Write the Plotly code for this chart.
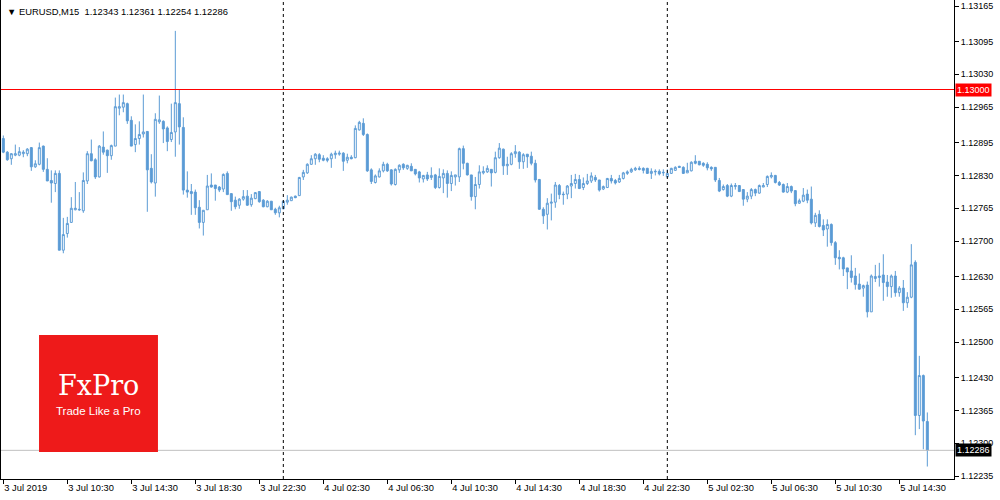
import pandas as pd
import plotly.graph_objects as go

symbol = "EURUSD,M15"
start_time = "2019-07-03 06:30"

open_ = [1.12903,1.12876,1.12863,1.12870,1.12870,1.12873,1.12873,1.12885,1.12847,1.12852,
1.12888,1.12842,1.12820,1.12814,1.12834,1.12682,1.12715,1.12737,1.12762,1.12763,
1.12760,1.12819,1.12873,1.12861,1.12827,1.12886,1.12880,1.12869,1.12888,1.12963,
1.12965,1.12972,1.12939,1.12891,1.12903,1.12912,1.12917,1.12844,1.12815,1.12936,
1.12937,1.12924,1.12901,1.12916,1.12972,1.12925,1.12801,1.12798,1.12797,1.12767,
1.12737,1.12762,1.12811,1.12811,1.12807,1.12803,1.12834,1.12794,1.12781,1.12771,
1.12783,1.12789,1.12772,1.12784,1.12798,1.12781,1.12768,1.12779,1.12763,1.12756,
1.12764,1.12777,1.12780,1.12789,1.12790,1.12827,1.12835,1.12852,1.12863,1.12871,
1.12864,1.12863,1.12863,1.12871,1.12872,1.12874,1.12860,1.12866,1.12865,1.12920,
1.12933,1.12911,1.12841,1.12816,1.12827,1.12839,1.12852,1.12841,1.12812,1.12841,
1.12852,1.12844,1.12848,1.12842,1.12837,1.12823,1.12831,1.12826,1.12831,1.12806,
1.12825,1.12834,1.12814,1.12827,1.12827,1.12883,1.12854,1.12831,1.12788,1.12812,
1.12835,1.12837,1.12842,1.12836,1.12865,1.12882,1.12849,1.12852,1.12873,1.12876,
1.12857,1.12872,1.12868,1.12854,1.12822,1.12763,1.12753,1.12775,1.12777,1.12810,
1.12793,1.12793,1.12809,1.12814,1.12822,1.12806,1.12814,1.12819,1.12826,1.12821,
1.12803,1.12806,1.12824,1.12820,1.12817,1.12824,1.12834,1.12837,1.12841,1.12844,
1.12844,1.12844,1.12834,1.12837,1.12838,1.12835,1.12827,1.12834,1.12840,1.12848,
1.12846,1.12835,1.12839,1.12858,1.12858,1.12854,1.12852,1.12846,1.12846,1.12820,
1.12802,1.12810,1.12789,1.12808,1.12810,1.12802,1.12783,1.12789,1.12802,1.12795,
1.12807,1.12812,1.12827,1.12830,1.12816,1.12812,1.12797,1.12808,1.12800,1.12775,
1.12779,1.12793,1.12783,1.12736,1.12753,1.12731,1.12724,1.12733,1.12697,1.12668,
1.12667,1.12647,1.12641,1.12631,1.12615,1.12607,1.12613,1.12560,1.12626,1.12628,
1.12633,1.12619,1.12610,1.12631,1.12598,1.12607,1.12578,1.12589,1.12658,1.12355,
1.12434,1.12343]

high = [1.12909,1.12878,1.12874,1.12891,1.12886,1.12880,1.12884,1.12886,1.12860,1.12895,
1.12889,1.12864,1.12840,1.12840,1.12840,1.12746,1.12748,1.12787,1.12817,1.12797,
1.12836,1.12878,1.12901,1.12864,1.12890,1.12917,1.12881,1.12891,1.12984,1.12990,
1.12990,1.12974,1.12947,1.12931,1.12937,1.12990,1.12917,1.12872,1.12953,1.12988,
1.12939,1.12927,1.12972,1.13116,1.13001,1.12945,1.12838,1.12813,1.12802,1.12781,
1.12761,1.12831,1.12834,1.12811,1.12809,1.12834,1.12838,1.12794,1.12788,1.12785,
1.12801,1.12801,1.12793,1.12797,1.12799,1.12783,1.12781,1.12779,1.12766,1.12770,
1.12780,1.12791,1.12788,1.12790,1.12827,1.12841,1.12854,1.12870,1.12874,1.12874,
1.12870,1.12866,1.12875,1.12879,1.12879,1.12876,1.12873,1.12870,1.12929,1.12938,
1.12943,1.12913,1.12844,1.12832,1.12844,1.12857,1.12855,1.12842,1.12844,1.12852,
1.12854,1.12851,1.12854,1.12842,1.12839,1.12831,1.12837,1.12846,1.12833,1.12844,
1.12842,1.12840,1.12838,1.12831,1.12885,1.12889,1.12855,1.12831,1.12827,1.12850,
1.12848,1.12850,1.12842,1.12877,1.12894,1.12883,1.12867,1.12876,1.12890,1.12878,
1.12874,1.12872,1.12877,1.12861,1.12823,1.12767,1.12785,1.12794,1.12817,1.12813,
1.12798,1.12811,1.12831,1.12833,1.12831,1.12826,1.12833,1.12836,1.12831,1.12821,
1.12810,1.12825,1.12831,1.12823,1.12831,1.12837,1.12840,1.12845,1.12847,1.12848,
1.12846,1.12845,1.12844,1.12842,1.12842,1.12842,1.12842,1.12845,1.12848,1.12849,
1.12848,1.12855,1.12858,1.12870,1.12858,1.12856,1.12856,1.12848,1.12846,1.12825,
1.12812,1.12813,1.12814,1.12815,1.12810,1.12803,1.12797,1.12805,1.12804,1.12812,
1.12815,1.12830,1.12836,1.12831,1.12819,1.12814,1.12815,1.12810,1.12800,1.12784,
1.12805,1.12802,1.12808,1.12756,1.12761,1.12743,1.12743,1.12735,1.12700,1.12682,
1.12669,1.12647,1.12672,1.12647,1.12636,1.12614,1.12620,1.12634,1.12653,1.12657,
1.12674,1.12633,1.12634,1.12641,1.12611,1.12623,1.12599,1.12694,1.12662,1.12473,
1.12436,1.12361]

low = [1.12874,1.12859,1.12851,1.12868,1.12868,1.12866,1.12868,1.12839,1.12845,1.12850,
1.12837,1.12819,1.12776,1.12797,1.12682,1.12676,1.12707,1.12736,1.12761,1.12760,
1.12756,1.12813,1.12858,1.12823,1.12826,1.12871,1.12835,1.12861,1.12888,1.12949,
1.12955,1.12932,1.12888,1.12876,1.12891,1.12905,1.12758,1.12814,1.12788,1.12932,
1.12894,1.12878,1.12896,1.12867,1.12891,1.12792,1.12786,1.12752,1.12752,1.12725,
1.12711,1.12762,1.12806,1.12780,1.12797,1.12797,1.12792,1.12760,1.12763,1.12764,
1.12780,1.12770,1.12768,1.12783,1.12776,1.12767,1.12767,1.12762,1.12752,1.12747,
1.12763,1.12772,1.12780,1.12785,1.12790,1.12821,1.12833,1.12851,1.12851,1.12856,
1.12858,1.12856,1.12845,1.12863,1.12869,1.12839,1.12854,1.12862,1.12864,1.12919,
1.12908,1.12837,1.12813,1.12814,1.12826,1.12836,1.12837,1.12810,1.12810,1.12835,
1.12841,1.12841,1.12839,1.12830,1.12816,1.12816,1.12819,1.12821,1.12803,1.12804,
1.12795,1.12786,1.12799,1.12810,1.12817,1.12842,1.12830,1.12780,1.12763,1.12804,
1.12832,1.12835,1.12808,1.12834,1.12863,1.12831,1.12831,1.12850,1.12865,1.12843,
1.12843,1.12845,1.12850,1.12816,1.12762,1.12734,1.12723,1.12741,1.12766,1.12783,
1.12772,1.12783,1.12785,1.12804,1.12803,1.12801,1.12811,1.12815,1.12817,1.12798,
1.12801,1.12806,1.12814,1.12812,1.12815,1.12822,1.12831,1.12835,1.12839,1.12840,
1.12834,1.12833,1.12823,1.12830,1.12830,1.12829,1.12826,1.12833,1.12839,1.12845,
1.12833,1.12835,1.12838,1.12852,1.12850,1.12847,1.12840,1.12839,1.12817,1.12797,
1.12800,1.12787,1.12787,1.12802,1.12798,1.12770,1.12777,1.12783,1.12789,1.12794,
1.12807,1.12807,1.12824,1.12814,1.12809,1.12796,1.12795,1.12795,1.12769,1.12774,
1.12777,1.12775,1.12733,1.12728,1.12727,1.12710,1.12689,1.12691,1.12653,1.12644,
1.12631,1.12605,1.12618,1.12604,1.12604,1.12590,1.12549,1.12560,1.12619,1.12610,
1.12582,1.12590,1.12588,1.12590,1.12590,1.12562,1.12568,1.12587,1.12316,1.12328,
1.12288,1.12254]

close = [1.12876,1.12861,1.12873,1.12873,1.12877,1.12876,1.12882,1.12847,1.12853,1.12885,
1.12842,1.12819,1.12815,1.12834,1.12682,1.12713,1.12735,1.12765,1.12765,1.12762,
1.12820,1.12873,1.12859,1.12827,1.12888,1.12876,1.12869,1.12889,1.12966,1.12966,
1.12974,1.12938,1.12888,1.12903,1.12911,1.12916,1.12841,1.12817,1.12941,1.12940,
1.12922,1.12897,1.12915,1.12974,1.12926,1.12801,1.12797,1.12794,1.12766,1.12737,
1.12761,1.12809,1.12807,1.12804,1.12801,1.12832,1.12792,1.12778,1.12768,1.12783,
1.12788,1.12771,1.12785,1.12796,1.12778,1.12768,1.12779,1.12762,1.12756,1.12766,
1.12779,1.12781,1.12787,1.12786,1.12826,1.12836,1.12852,1.12863,1.12872,1.12862,
1.12860,1.12860,1.12872,1.12874,1.12874,1.12858,1.12866,1.12863,1.12923,1.12935,
1.12911,1.12839,1.12818,1.12829,1.12839,1.12852,1.12839,1.12813,1.12842,1.12850,
1.12845,1.12850,1.12839,1.12833,1.12825,1.12830,1.12823,1.12830,1.12806,1.12828,
1.12834,1.12814,1.12830,1.12831,1.12883,1.12854,1.12831,1.12788,1.12812,1.12837,
1.12838,1.12844,1.12835,1.12865,1.12884,1.12849,1.12852,1.12873,1.12877,1.12857,
1.12871,1.12867,1.12854,1.12821,1.12763,1.12750,1.12775,1.12777,1.12811,1.12792,
1.12792,1.12809,1.12814,1.12822,1.12804,1.12814,1.12819,1.12829,1.12821,1.12801,
1.12808,1.12824,1.12819,1.12815,1.12824,1.12835,1.12837,1.12842,1.12844,1.12842,
1.12840,1.12834,1.12838,1.12838,1.12833,1.12836,1.12834,1.12844,1.12846,1.12846,
1.12834,1.12840,1.12856,1.12854,1.12851,1.12850,1.12845,1.12843,1.12821,1.12799,
1.12808,1.12789,1.12810,1.12810,1.12798,1.12783,1.12789,1.12802,1.12795,1.12810,
1.12810,1.12828,1.12830,1.12816,1.12811,1.12797,1.12808,1.12799,1.12774,1.12780,
1.12791,1.12781,1.12736,1.12751,1.12729,1.12722,1.12733,1.12697,1.12667,1.12665,
1.12645,1.12639,1.12628,1.12614,1.12605,1.12612,1.12560,1.12631,1.12630,1.12631,
1.12618,1.12610,1.12631,1.12598,1.12607,1.12578,1.12589,1.12653,1.12355,1.12434,
1.12344,1.12286]

tick_times = ["2019-07-03 06:30", "2019-07-03 10:30", "2019-07-03 14:30", "2019-07-03 18:30",
              "2019-07-03 22:30", "2019-07-04 02:30", "2019-07-04 06:30", "2019-07-04 10:30",
              "2019-07-04 14:30", "2019-07-04 18:30", "2019-07-04 22:30", "2019-07-05 02:30",
              "2019-07-05 06:30", "2019-07-05 10:30", "2019-07-05 14:30"]
tick_labels = ["3 Jul 2019", "3 Jul 10:30", "3 Jul 14:30", "3 Jul 18:30", "3 Jul 22:30",
               "4 Jul 02:30", "4 Jul 06:30", "4 Jul 10:30", "4 Jul 14:30", "4 Jul 18:30",
               "4 Jul 22:30", "5 Jul 02:30", "5 Jul 06:30", "5 Jul 10:30", "5 Jul 14:30"]
price_ticks = [1.12235, 1.12300, 1.12365, 1.12430, 1.12500, 1.12565, 1.12630, 1.12700,
               1.12765, 1.12830, 1.12895, 1.12965, 1.13030, 1.13095, 1.13165]
day_separators = ["2019-07-04 00:00", "2019-07-05 00:00"]
level_line = 1.13000

BLUE = "#5B9BD5"
FONT = "Liberation Sans, Arial, sans-serif"

times = pd.date_range(start_time, periods=len(close), freq="15min")
bar = pd.Timedelta(minutes=15)
x_start = times[0] - bar * 0.58
x_end = x_start + bar * (953 / 4)

fig = go.Figure(go.Candlestick(
    x=times, open=open_, high=high, low=low, close=close,
    increasing=dict(line=dict(color=BLUE, width=1), fillcolor="white"),
    decreasing=dict(line=dict(color=BLUE, width=1), fillcolor=BLUE),
    whiskerwidth=0, hoverinfo="skip", showlegend=False,
))

shapes = []
for d in day_separators:
    shapes.append(dict(type="line", xref="x", yref="paper", x0=d, x1=d, y0=0, y1=1,
                       line=dict(color="black", width=1, dash="3px,3px")))
shapes.append(dict(type="line", xref="paper", yref="y", x0=0, x1=1, y0=level_line, y1=level_line,
                   line=dict(color="#FF0000", width=1.2)))
shapes.append(dict(type="line", xref="paper", yref="y", x0=0, x1=1, y0=close[-1], y1=close[-1],
                   line=dict(color="#C0C0C0", width=1)))
# FxPro logo box
shapes.append(dict(type="rect", xref="paper", yref="paper", x0=0.0399, x1=0.1647,
                   y0=0.0565, y1=0.3006, fillcolor="#EE1A1A", line=dict(width=0)))

header = "\u25BC " + symbol + "\u00a0\u00a0" + " ".join(
    f"{v:.5f}" for v in (open_[-1], high[-1], low[-1], close[-1]))

annotations = [
    dict(xref="paper", yref="paper", x=0, y=1, xanchor="left", yanchor="top", xshift=4, yshift=-4,
         text=header, showarrow=False, font=dict(family=FONT, size=9.4, color="black")),
    dict(xref="paper", yref="y", x=1, y=level_line, xanchor="left", yanchor="middle", xshift=1,
         text=f"{level_line:.5f}", showarrow=False, bgcolor="#FF0000", borderpad=1,
         font=dict(family=FONT, size=9, color="white")),
    dict(xref="paper", yref="y", x=1, y=close[-1], xanchor="left", yanchor="middle", xshift=1,
         text=f"{close[-1]:.5f}", showarrow=False, bgcolor="black", borderpad=1,
         font=dict(family=FONT, size=9, color="white")),
    dict(xref="paper", yref="paper", x=0.1023, y=0.196, xanchor="center", yanchor="middle",
         text="FxPro", showarrow=False, font=dict(family="DejaVu Serif, serif", size=27, color="white")),
    dict(xref="paper", yref="paper", x=0.1023, y=0.143, xanchor="center", yanchor="middle",
         text="Trade Like a Pro", showarrow=False, font=dict(family=FONT, size=11.5, color="white")),
]

fig.update_layout(
    width=1000, height=500,
    margin=dict(l=1, r=46, t=0, b=21),
    paper_bgcolor="white", plot_bgcolor="white",
    shapes=shapes, annotations=annotations,
    hovermode=False, showlegend=False,
    font=dict(family=FONT, size=9, color="black"),
    xaxis=dict(
        range=[x_start, x_end], rangeslider=dict(visible=False),
        tickmode="array", tickvals=tick_times, ticktext=tick_labels,
        ticks="outside", ticklen=4, tickcolor="black", tickwidth=1,
        ticklabelposition="outside right",
        showline=True, linecolor="black", linewidth=1, showgrid=False, zeroline=False,
        tickfont=dict(family=FONT, size=9.3, color="black"),
    ),
    yaxis=dict(
        side="right", range=[1.122293, 1.131771],
        tickmode="array", tickvals=price_ticks, ticktext=[f"{v:.5f}" for v in price_ticks],
        ticks="outside", ticklen=4, tickcolor="black", tickwidth=1,
        showline=True, linecolor="black", linewidth=1, mirror=True,
        showgrid=False, zeroline=False,
        tickfont=dict(family=FONT, size=9, color="black"),
    ),
)

fig.write_html("out.html", config={"staticPlot": True},
               post_script="document.body.style.margin='0';document.body.style.overflow='hidden';")
